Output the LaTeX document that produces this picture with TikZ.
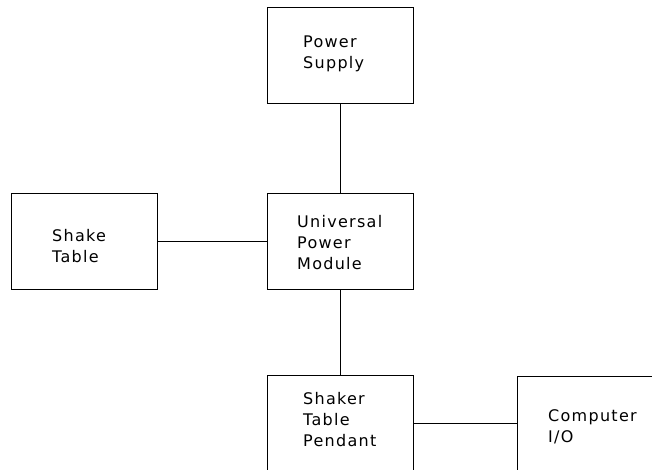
\documentclass[tikz,border=0pt]{standalone}
\usepackage{fontspec}
\setmainfont[LetterSpace=8]{DejaVu Sans}
\begin{document}
\begin{tikzpicture}[x=1pt,y=-1pt,
  blk/.style={draw,line width=0.9pt,minimum width=146pt,minimum height=96pt,inner sep=0pt},
  lbl/.style={anchor=west,align=left,inner sep=0pt,font=\fontsize{16}{21}\selectfont},
  wire/.style={line width=0.9pt}]
\useasboundingbox (0,0) rectangle (652,470);
\clip (0,0) rectangle (652,470);
\node[blk] (ps) at (340,55) {};
\node[blk] (st) at (84.5,241) {};
\node[blk] (upm) at (340,241) {};
\node[blk] (pend) at (340,423) {};
\node[blk] (comp) at (590,424) {};
\node[lbl] (tps) at (303,54) {Power\\Supply};
\node[lbl] (tst) at (52,246) {Shake\\Table};
\node[lbl] (tupm) at (297,243) {Universal\\Power\\Module};
\node[lbl] (tpend) at (303,420) {Shaker\\Table\\Pendant};
\node[lbl] (tcomp) at (548,427) {Computer\\I/O};
\draw[wire] (ps) -- (upm);
\draw[wire] (st) -- (upm);
\draw[wire] (upm) -- (pend);
\draw[wire] (pend.east) -- (pend.east -| comp.west);
\end{tikzpicture}
\end{document}
